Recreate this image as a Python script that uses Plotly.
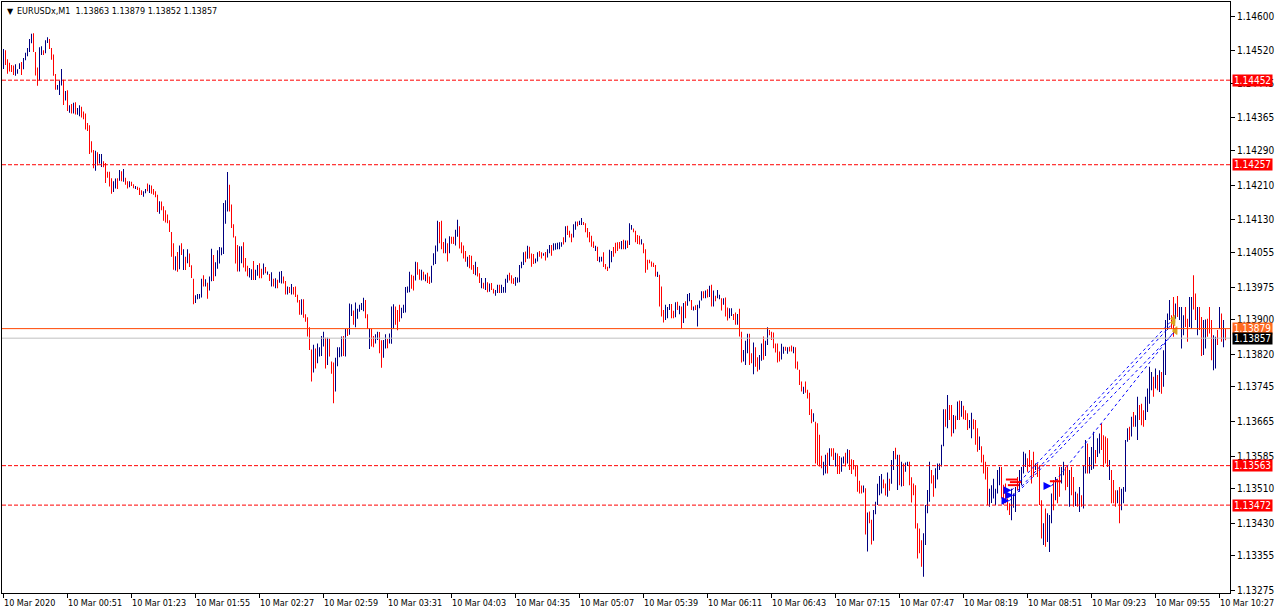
import plotly.graph_objects as go
import pandas as pd

SYMBOL = "EURUSDx,M1"
START = "2020-03-10 00:19"  # first visible M1 bar

# ---- bar highs / lows (M1) ----
HIGH_A = [
    1.14524, 1.14521, 1.14500, 1.14492, 1.14487, 1.14486, 1.14489, 1.14477, 1.14491, 1.14494,
    1.14503, 1.14515, 1.14526, 1.14547, 1.14559, 1.14560, 1.14517, 1.14481, 1.14528, 1.14530,
    1.14521, 1.14544, 1.14551, 1.14547, 1.14526, 1.14511, 1.14466, 1.14441, 1.14451, 1.14478,
    1.14453, 1.14427, 1.14429, 1.14394, 1.14397, 1.14400, 1.14401, 1.14388, 1.14394, 1.14391,
    1.14380, 1.14375, 1.14353, 1.14348, 1.14311, 1.14291, 1.14289, 1.14286, 1.14282, 1.14282,
    1.14265, 1.14261, 1.14241, 1.14241, 1.14226, 1.14219, 1.14225, 1.14226, 1.14245, 1.14242,
    1.14247, 1.14227, 1.14219, 1.14219, 1.14218, 1.14212, 1.14208, 1.14206, 1.14204, 1.14198,
    1.14196, 1.14201, 1.14214, 1.14211, 1.14209, 1.14201, 1.14196, 1.14188, 1.14173, 1.14172,
    1.14161, 1.14152, 1.14142, 1.14129, 1.14102, 1.14076, 1.14046, 1.14056, 1.14071, 1.14076,
    1.14062, 1.14045, 1.14062, 1.14052, 1.14025, 1.13994, 1.13956, 1.13959, 1.13959, 1.13994,
    1.14002, 1.13993, 1.13985, 1.13999, 1.14063, 1.14049, 1.14032, 1.14060, 1.14067, 1.14066,
    1.14169, 1.14175, 1.14240, 1.14211, 1.14165, 1.14120, 1.14092, 1.14072, 1.14069, 1.14069,
    1.14078, 1.14042, 1.14024, 1.14019,
]
LOW_A = [
    1.14478, 1.14487, 1.14467, 1.14472, 1.14471, 1.14464, 1.14462, 1.14467, 1.14478, 1.14464,
    1.14477, 1.14498, 1.14507, 1.14517, 1.14537, 1.14517, 1.14463, 1.14439, 1.14451, 1.14510,
    1.14510, 1.14514, 1.14538, 1.14524, 1.14499, 1.14462, 1.14430, 1.14430, 1.14418, 1.14440,
    1.14395, 1.14405, 1.14381, 1.14377, 1.14375, 1.14375, 1.14373, 1.14372, 1.14369, 1.14366,
    1.14362, 1.14338, 1.14335, 1.14282, 1.14285, 1.14249, 1.14243, 1.14255, 1.14260, 1.14252,
    1.14251, 1.14215, 1.14227, 1.14207, 1.14190, 1.14194, 1.14202, 1.14201, 1.14220, 1.14219,
    1.14218, 1.14211, 1.14202, 1.14205, 1.14208, 1.14203, 1.14201, 1.14199, 1.14187, 1.14187,
    1.14183, 1.14191, 1.14196, 1.14192, 1.14190, 1.14188, 1.14182, 1.14148, 1.14144, 1.14152,
    1.14128, 1.14124, 1.14122, 1.14102, 1.14045, 1.14015, 1.14013, 1.14010, 1.14016, 1.14049,
    1.14014, 1.14014, 1.14030, 1.14021, 1.13996, 1.13935, 1.13938, 1.13947, 1.13948, 1.13951,
    1.13976, 1.13976, 1.13948, 1.13967, 1.13988, 1.13989, 1.14000, 1.14017, 1.14029, 1.14048,
    1.14051, 1.14121, 1.14149, 1.14149, 1.14111, 1.14089, 1.14029, 1.14011, 1.14011, 1.14030,
    1.14020, 1.14011, 1.14000, 1.13997,
]
HIGH_B = [
    1.14016, 1.14035, 1.14015, 1.14026, 1.14030, 1.14017, 1.14029, 1.14021, 1.14011, 1.14005,
    1.14009, 1.13994, 1.13995, 1.13992, 1.14010, 1.14012, 1.13999, 1.13989, 1.13976, 1.13975,
    1.13982, 1.13975, 1.13976, 1.13957, 1.13945, 1.13947, 1.13947, 1.13912, 1.13905, 1.13882,
    1.13831, 1.13842, 1.13833, 1.13845, 1.13836, 1.13862, 1.13872, 1.13858, 1.13858, 1.13856,
    1.13803, 1.13801, 1.13812, 1.13836, 1.13836, 1.13861, 1.13862, 1.13878, 1.13878, 1.13937,
    1.13935, 1.13921, 1.13939, 1.13925, 1.13934, 1.13938, 1.13950, 1.13945, 1.13912, 1.13880,
    1.13879, 1.13862, 1.13866, 1.13872, 1.13871, 1.13852, 1.13853, 1.13866, 1.13855, 1.13868,
    1.13930, 1.13935, 1.13930, 1.13922, 1.13934, 1.13927, 1.13934, 1.13975, 1.13976, 1.14010,
    1.14003, 1.14001, 1.14033, 1.14032, 1.14016, 1.14015, 1.14010, 1.14004, 1.14008, 1.13999,
    1.14024, 1.14053, 1.14071, 1.14128, 1.14125, 1.14128, 1.14079, 1.14087, 1.14076, 1.14092,
    1.14091, 1.14091, 1.14107, 1.14130, 1.14115, 1.14078, 1.14071, 1.14058, 1.14045, 1.14049,
    1.14047, 1.14026, 1.14033, 1.14021, 1.14007, 1.13996, 1.13985, 1.13996, 1.13986, 1.13983,
    1.13984, 1.13971,
]
LOW_B = [
    1.13991, 1.13991, 1.13991, 1.14001, 1.13995, 1.13995, 1.14003, 1.14007, 1.14003, 1.13989,
    1.13976, 1.13976, 1.13972, 1.13972, 1.13985, 1.13983, 1.13983, 1.13958, 1.13958, 1.13961,
    1.13958, 1.13958, 1.13952, 1.13939, 1.13911, 1.13911, 1.13904, 1.13895, 1.13861, 1.13830,
    1.13757, 1.13778, 1.13787, 1.13799, 1.13815, 1.13816, 1.13838, 1.13787, 1.13795, 1.13815,
    1.13775, 1.13707, 1.13734, 1.13792, 1.13813, 1.13815, 1.13816, 1.13815, 1.13862, 1.13865,
    1.13908, 1.13888, 1.13882, 1.13902, 1.13918, 1.13922, 1.13919, 1.13903, 1.13878, 1.13832,
    1.13838, 1.13836, 1.13845, 1.13853, 1.13822, 1.13789, 1.13812, 1.13833, 1.13834, 1.13845,
    1.13844, 1.13878, 1.13888, 1.13875, 1.13895, 1.13903, 1.13915, 1.13916, 1.13962, 1.13963,
    1.13971, 1.13967, 1.13990, 1.14003, 1.13992, 1.13990, 1.13992, 1.13988, 1.13984, 1.13982,
    1.13985, 1.14025, 1.14028, 1.14057, 1.14076, 1.14062, 1.14053, 1.14053, 1.14034, 1.14053,
    1.14075, 1.14074, 1.14071, 1.14091, 1.14064, 1.14053, 1.14041, 1.14033, 1.14022, 1.14018,
    1.14015, 1.14005, 1.14002, 1.13999, 1.13984, 1.13972, 1.13971, 1.13968, 1.13963, 1.13964,
    1.13968, 1.13960,
]
HIGH_C = [
    1.13968, 1.13980, 1.13980, 1.13980, 1.13975, 1.13994, 1.14003, 1.14008, 1.14002, 1.13995,
    1.13998, 1.13997, 1.14026, 1.14033, 1.14055, 1.14057, 1.14070, 1.14068, 1.14052, 1.14051,
    1.14041, 1.14055, 1.14058, 1.14055, 1.14053, 1.14056, 1.14062, 1.14072, 1.14072, 1.14076,
    1.14076, 1.14077, 1.14078, 1.14078, 1.14090, 1.14115, 1.14116, 1.14105, 1.14098, 1.14120,
    1.14126, 1.14126, 1.14128, 1.14134, 1.14125, 1.14122, 1.14111, 1.14102, 1.14093, 1.14080,
    1.14070, 1.14068, 1.14045, 1.14045, 1.14055, 1.14028, 1.14022, 1.14061, 1.14058, 1.14067,
    1.14077, 1.14078, 1.14079, 1.14081, 1.14084, 1.14082, 1.14082, 1.14122, 1.14118, 1.14110,
    1.14105, 1.14095, 1.14093, 1.14085, 1.14076, 1.14062, 1.14038, 1.14038, 1.14034, 1.14031,
    1.14026, 1.14010, 1.14003, 1.13976, 1.13922, 1.13934, 1.13929, 1.13936, 1.13936, 1.13920,
    1.13940, 1.13941, 1.13932, 1.13930, 1.13938, 1.13942, 1.13959, 1.13961, 1.13945, 1.13930,
    1.13933, 1.13934, 1.13944, 1.13965, 1.13965, 1.13967, 1.13970, 1.13978, 1.13980, 1.13967,
    1.13955, 1.13968, 1.13957, 1.13949, 1.13949, 1.13951, 1.13928, 1.13926, 1.13926, 1.13913,
    1.13916, 1.13913, 1.13925,
]
LOW_C = [
    1.13955, 1.13961, 1.13961, 1.13961, 1.13962, 1.13962, 1.13985, 1.13990, 1.13983, 1.13982,
    1.13978, 1.13985, 1.13986, 1.14018, 1.14026, 1.14032, 1.14040, 1.14041, 1.14022, 1.14028,
    1.14030, 1.14034, 1.14045, 1.14041, 1.14047, 1.14036, 1.14043, 1.14053, 1.14047, 1.14059,
    1.14061, 1.14062, 1.14062, 1.14068, 1.14073, 1.14078, 1.14095, 1.14089, 1.14078, 1.14089,
    1.14107, 1.14115, 1.14118, 1.14118, 1.14118, 1.14101, 1.14089, 1.14078, 1.14068, 1.14065,
    1.14058, 1.14035, 1.14032, 1.14034, 1.14021, 1.14016, 1.14012, 1.14018, 1.14032, 1.14045,
    1.14053, 1.14058, 1.14063, 1.14062, 1.14062, 1.14062, 1.14065, 1.14072, 1.14107, 1.14101,
    1.14078, 1.14074, 1.14073, 1.14073, 1.14053, 1.14008, 1.14015, 1.14030, 1.14022, 1.14021,
    1.13999, 1.13998, 1.13930, 1.13907, 1.13893, 1.13899, 1.13903, 1.13922, 1.13903, 1.13903,
    1.13905, 1.13922, 1.13912, 1.13878, 1.13892, 1.13903, 1.13932, 1.13942, 1.13922, 1.13921,
    1.13922, 1.13884, 1.13926, 1.13944, 1.13949, 1.13949, 1.13951, 1.13952, 1.13930, 1.13930,
    1.13942, 1.13949, 1.13947, 1.13921, 1.13934, 1.13907, 1.13898, 1.13903, 1.13908, 1.13899,
    1.13888, 1.13888, 1.13861,
]
HIGH_D = [
    1.13872, 1.13830, 1.13851, 1.13867, 1.13867, 1.13822, 1.13847, 1.13836, 1.13813, 1.13818,
    1.13845, 1.13861, 1.13851, 1.13882, 1.13876, 1.13872, 1.13870, 1.13845, 1.13845, 1.13826,
    1.13844, 1.13837, 1.13837, 1.13836, 1.13837, 1.13840, 1.13837, 1.13836, 1.13803, 1.13784,
    1.13757, 1.13745, 1.13757, 1.13738, 1.13731, 1.13693, 1.13684, 1.13664, 1.13661, 1.13634,
    1.13586, 1.13572, 1.13588, 1.13593, 1.13603, 1.13603, 1.13603, 1.13593, 1.13591, 1.13585,
    1.13582, 1.13584, 1.13593, 1.13601, 1.13599, 1.13578, 1.13576, 1.13562, 1.13562, 1.13528,
    1.13517, 1.13517, 1.13511, 1.13455, 1.13457, 1.13438, 1.13461, 1.13480, 1.13521, 1.13539,
    1.13544, 1.13531, 1.13522, 1.13547, 1.13533, 1.13576, 1.13597, 1.13604, 1.13588, 1.13588,
    1.13572, 1.13568, 1.13570, 1.13572, 1.13572, 1.13536, 1.13522, 1.13518, 1.13430, 1.13418,
    1.13391, 1.13407, 1.13472, 1.13507, 1.13572, 1.13553, 1.13541, 1.13557, 1.13568, 1.13568,
    1.13611, 1.13693, 1.13693, 1.13726, 1.13703, 1.13703, 1.13680, 1.13678, 1.13711, 1.13713,
    1.13712, 1.13701, 1.13691, 1.13684, 1.13668, 1.13685, 1.13670, 1.13668, 1.13649, 1.13630,
    1.13608, 1.13588,
]
LOW_D = [
    1.13801, 1.13803, 1.13795, 1.13822, 1.13795, 1.13799, 1.13774, 1.13791, 1.13780, 1.13784,
    1.13805, 1.13807, 1.13816, 1.13841, 1.13864, 1.13853, 1.13834, 1.13824, 1.13801, 1.13803,
    1.13808, 1.13821, 1.13828, 1.13821, 1.13826, 1.13826, 1.13822, 1.13787, 1.13784, 1.13749,
    1.13734, 1.13728, 1.13731, 1.13718, 1.13680, 1.13661, 1.13664, 1.13568, 1.13564, 1.13561,
    1.13557, 1.13541, 1.13545, 1.13545, 1.13562, 1.13584, 1.13576, 1.13561, 1.13544, 1.13544,
    1.13549, 1.13568, 1.13561, 1.13568, 1.13553, 1.13544, 1.13554, 1.13538, 1.13503, 1.13499,
    1.13499, 1.13501, 1.13404, 1.13365, 1.13430, 1.13381, 1.13390, 1.13451, 1.13472, 1.13495,
    1.13499, 1.13511, 1.13494, 1.13491, 1.13505, 1.13521, 1.13553, 1.13578, 1.13507, 1.13518,
    1.13515, 1.13516, 1.13549, 1.13562, 1.13518, 1.13478, 1.13495, 1.13418, 1.13349, 1.13361,
    1.13330, 1.13307, 1.13380, 1.13453, 1.13480, 1.13522, 1.13491, 1.13511, 1.13531, 1.13553,
    1.13561, 1.13608, 1.13653, 1.13649, 1.13668, 1.13630, 1.13638, 1.13647, 1.13668, 1.13668,
    1.13676, 1.13670, 1.13668, 1.13645, 1.13649, 1.13626, 1.13647, 1.13611, 1.13595, 1.13599,
    1.13570, 1.13545,
]
HIGH_E = [
    1.13572, 1.13560, 1.13510, 1.13518, 1.13533, 1.13510, 1.13553, 1.13560, 1.13560, 1.13519,
    1.13522, 1.13487, 1.13476, 1.13510, 1.13499, 1.13514, 1.13537, 1.13553, 1.13560, 1.13595,
    1.13591, 1.13580, 1.13599, 1.13576, 1.13595, 1.13568, 1.13568, 1.13564, 1.13483, 1.13430,
    1.13464, 1.13453, 1.13449, 1.13499, 1.13530, 1.13537, 1.13533, 1.13560, 1.13560, 1.13572,
    1.13560, 1.13564, 1.13553, 1.13560, 1.13537, 1.13503, 1.13499, 1.13514, 1.13495, 1.13564,
    1.13622, 1.13614, 1.13583, 1.13606, 1.13641, 1.13599, 1.13626, 1.13637, 1.13660, 1.13633,
    1.13630, 1.13626, 1.13576, 1.13553, 1.13530, 1.13506, 1.13506, 1.13514, 1.13510, 1.13514,
    1.13622, 1.13649, 1.13653, 1.13676, 1.13687, 1.13679, 1.13722, 1.13703, 1.13706, 1.13691,
    1.13722, 1.13741, 1.13791, 1.13779, 1.13768, 1.13787, 1.13772, 1.13783, 1.13779, 1.13829,
    1.13899, 1.13914, 1.13945, 1.13910, 1.13952, 1.13937, 1.13954, 1.13929, 1.13929, 1.13910,
    1.13929, 1.13902, 1.13952, 1.13952, 1.14002, 1.13960, 1.13929, 1.13929, 1.13906, 1.13899,
    1.13900, 1.13902, 1.13929, 1.13899, 1.13864, 1.13860, 1.13876, 1.13929, 1.13914, 1.13899,
    1.13879,
]
LOW_E = [
    1.13531, 1.13472, 1.13468, 1.13477, 1.13487, 1.13472, 1.13499, 1.13518, 1.13487, 1.13473,
    1.13476, 1.13460, 1.13449, 1.13437, 1.13466, 1.13456, 1.13506, 1.13503, 1.13518, 1.13545,
    1.13560, 1.13549, 1.13560, 1.13522, 1.13537, 1.13553, 1.13537, 1.13472, 1.13395, 1.13380,
    1.13376, 1.13387, 1.13364, 1.13430, 1.13460, 1.13483, 1.13476, 1.13491, 1.13522, 1.13541,
    1.13506, 1.13514, 1.13468, 1.13495, 1.13468, 1.13470, 1.13468, 1.13456, 1.13468, 1.13464,
    1.13545, 1.13545, 1.13545, 1.13553, 1.13556, 1.13568, 1.13583, 1.13591, 1.13599, 1.13560,
    1.13568, 1.13560, 1.13530, 1.13476, 1.13476, 1.13468, 1.13476, 1.13430, 1.13460, 1.13476,
    1.13503, 1.13618, 1.13622, 1.13630, 1.13653, 1.13653, 1.13622, 1.13668, 1.13656, 1.13653,
    1.13668, 1.13687, 1.13706, 1.13737, 1.13722, 1.13741, 1.13737, 1.13733, 1.13729, 1.13745,
    1.13772, 1.13876, 1.13899, 1.13879, 1.13860, 1.13902, 1.13906, 1.13899, 1.13833, 1.13864,
    1.13883, 1.13849, 1.13883, 1.13879, 1.13923, 1.13899, 1.13864, 1.13876, 1.13816, 1.13818,
    1.13833, 1.13860, 1.13868, 1.13806, 1.13783, 1.13787, 1.13841, 1.13879, 1.13849, 1.13836,
    1.13852,
]
# bar direction: u = close above open (blue bar), d = close below open (red bar)
DIRECTION_GROUPS = [
    "uddddduuud", "uuuuuddduu", "duudddduuu", "dudududuud", "dddddduduu", "ddddduudud",
    "uddudduddd", "uududdddud", "ddddddudud", "ududdduuuu", "duduuduuuu", "uuuddddduu", "dddu",
    "uduuddudud", "ududuuddud", "uddddudddd", "duduuuudud", "dduuuududu", "uduuuuuddu",
    "dduudduudu", "uuddduuuuu", "dduddududd", "uuuudddudu", "dduuddddud", "dduddududu", "dd",
    "uuduuuuddd", "uuuuududdd", "uudduduudu", "uuuududddu", "uduudddddd", "uduuddduud",
    "dddududuud", "dddudddddd", "duddduuudd", "udududuudu", "duuudududu", "duududduud", "dud",
    "duuudduddu", "uduudddddd", "uududduddd", "dudddduddd", "duududdudd", "uududddddd",
    "dududduuuu", "udduduudud", "uduudddddd", "duuuudduuu", "uududdudud", "uddduudddu", "dd",
    "dduuuuuudd", "ddduuuduuu", "uddddudddu", "duuududduu", "dduddududu", "uduuuduudd",
    "dduddduduu", "uududuuddd", "uuuudududu", "uuudduduuu", "dduudduddu", "uddduududu", "d",
]
LAST_OPEN = 1.13863
LAST_CLOSE = 1.13857

# horizontal levels
LEVELS = [1.14452, 1.14257, 1.13563, 1.13472]
ASK = 1.13879
BID = 1.13857

# trades (bar index of the M1 series, price)
ENTRY_BARS = [504, 505, 503, 524]
ENTRY_PRICES = [1.13506, 1.13495, 1.13482, 1.13516]
EXIT_BARS = [585, 585, 586, 586]
EXIT_PRICES = [1.13902, 1.13893, 1.13873, 1.13876]
MARK_BARS = [504, 506, 505, 526]
MARK_PRICES = [1.13531, 1.13525, 1.13518, 1.13527]

# axis ticks
Y_TICKS = [1.14600, 1.14520, 1.14445, 1.14365, 1.14290, 1.14210, 1.14130, 1.14055, 1.13975,
           1.13900, 1.13820, 1.13745, 1.13665, 1.13585, 1.13510, 1.13430, 1.13355, 1.13275]
X_TICK_TIMES = ["00:19", "00:51", "01:23", "01:55", "02:27", "02:59", "03:31", "04:03", "04:35",
                "05:07", "05:39", "06:11", "06:43", "07:15", "07:47", "08:19", "08:51", "09:23",
                "09:55", "10:27"]
X_TICK_TEXT = ["10 Mar 2020"] + ["10 Mar " + t for t in X_TICK_TIMES[1:]]

# ---------------------------------------------------------------
HIGH = HIGH_A + HIGH_B + HIGH_C + HIGH_D + HIGH_E
LOW = LOW_A + LOW_B + LOW_C + LOW_D + LOW_E
DIRECTION = "".join(DIRECTION_GROUPS)
assert len(HIGH) == len(LOW) == len(DIRECTION), (len(HIGH), len(LOW), len(DIRECTION))

times = pd.date_range(START, periods=len(HIGH), freq="min")
tstr = [t.strftime("%Y-%m-%d %H:%M:%S") for t in times]

FONT = "DejaVu Sans Condensed, Liberation Sans Narrow, DejaVu Sans, sans-serif"
UP = "#000080"
DOWN = "#ff0000"

fig = go.Figure()
# high-low bars: opaque thin bars are snapped to whole pixels by plotly
fig.add_trace(go.Bar(
    x=tstr,
    y=[h - l for h, l in zip(HIGH, LOW)],
    base=LOW,
    width=24000,  # ms
    marker=dict(color=[UP if d == "u" else DOWN for d in DIRECTION], line=dict(width=0)),
    hoverinfo="skip", showlegend=False,
))

# trade connecting lines
for eb, ep, xb, xp in zip(ENTRY_BARS, ENTRY_PRICES, EXIT_BARS, EXIT_PRICES):
    fig.add_trace(go.Scatter(x=[tstr[eb], tstr[xb]], y=[ep, xp], mode="lines",
                             line=dict(color="#0000ff", width=1, dash="dot"),
                             hoverinfo="skip", showlegend=False))
fig.add_trace(go.Scatter(x=[tstr[b] for b in MARK_BARS], y=MARK_PRICES, mode="markers",
                         marker=dict(symbol="line-ew", size=8, line=dict(color="#ff0000", width=2)),
                         hoverinfo="skip", showlegend=False))
fig.add_trace(go.Scatter(x=[tstr[b] for b in ENTRY_BARS], y=ENTRY_PRICES, mode="markers",
                         marker=dict(symbol="arrow-right", size=8, color="#0000ff",
                                     line=dict(width=0)),
                         hoverinfo="skip", showlegend=False))
fig.add_trace(go.Scatter(x=[tstr[b] for b in EXIT_BARS], y=EXIT_PRICES, mode="markers",
                         marker=dict(symbol="triangle-left", size=7, color="#daa520",
                                     line=dict(width=0)),
                         hoverinfo="skip", showlegend=False))

shapes = []
for lv in LEVELS:
    shapes.append(dict(type="line", xref="paper", x0=0, x1=1, yref="y", y0=lv, y1=lv,
                       line=dict(color="#ff0000", width=1, dash="4px,2px")))
shapes.append(dict(type="line", xref="paper", x0=0, x1=1, yref="y", y0=BID, y1=BID,
                   line=dict(color="#c0c0c0", width=1)))
shapes.append(dict(type="line", xref="paper", x0=0, x1=1, yref="y", y0=ASK, y1=ASK,
                   line=dict(color="#ff4500", width=1)))

annotations = []
for lv, bg in [(lv, "#ff0000") for lv in LEVELS] + [(ASK, "#ff6a1f"), (BID, "#000000")]:
    annotations.append(dict(xref="paper", x=1, xanchor="left", xshift=2, yref="y", y=lv,
                            text=f"{lv:.5f}", showarrow=False, bgcolor=bg,
                            font=dict(family=FONT, size=10, color="white"),
                            width=39, height=11, borderpad=0))
for t, lab in zip(X_TICK_TIMES, X_TICK_TEXT):
    annotations.append(dict(xref="x", x=f"2020-03-10 {t}:00", xanchor="left", xshift=-2,
                            yref="paper", y=0, yanchor="top", yshift=-3, text=lab,
                            showarrow=False, font=dict(family=FONT, size=9, color="black")))
header = (f"{SYMBOL}  {LAST_OPEN:.5f} {HIGH[-1]:.5f} {LOW[-1]:.5f} {LAST_CLOSE:.5f}")
annotations.append(dict(xref="paper", x=0, xanchor="left", xshift=3, yref="paper", y=1,
                        yanchor="top", yshift=-3, text="▼", showarrow=False,
                        font=dict(family="DejaVu Sans", size=8, color="black")))
annotations.append(dict(xref="paper", x=0, xanchor="left", xshift=13, yref="paper", y=1,
                        yanchor="top", yshift=-2, text=header, showarrow=False,
                        font=dict(family=FONT, size=9, color="black")))

t0 = pd.Timestamp(START)
x_range = [(t0 - pd.Timedelta(seconds=45)).strftime("%Y-%m-%d %H:%M:%S"),
           (t0 + pd.Timedelta(seconds=36795)).strftime("%Y-%m-%d %H:%M:%S")]

fig.update_layout(
    width=1276, height=614,
    margin=dict(l=2, r=46, t=2, b=21, pad=0),
    paper_bgcolor="white", plot_bgcolor="white",
    showlegend=False, hovermode=False, barmode="overlay",
    shapes=shapes, annotations=annotations,
    xaxis=dict(type="date", range=x_range, showgrid=False, zeroline=False,
               showline=True, linecolor="black", linewidth=1, mirror=True,
               tickvals=[f"2020-03-10 {t}:00" for t in X_TICK_TIMES],
               ticks="outside", ticklen=4, tickcolor="black", showticklabels=False),
    yaxis=dict(range=[1.132693, 1.146323], side="right", showgrid=False, zeroline=False,
               showline=True, linecolor="black", linewidth=1, mirror=True,
               tickvals=Y_TICKS, ticktext=[f"{v:.5f}" for v in Y_TICKS],
               ticks="outside", ticklen=4, tickcolor="black",
               tickfont=dict(family=FONT, size=10, color="black")),
)

fig.write_html("out.html", config={"displayModeBar": False},
               post_script="document.body.style.margin='0';document.body.style.overflow='hidden';")
